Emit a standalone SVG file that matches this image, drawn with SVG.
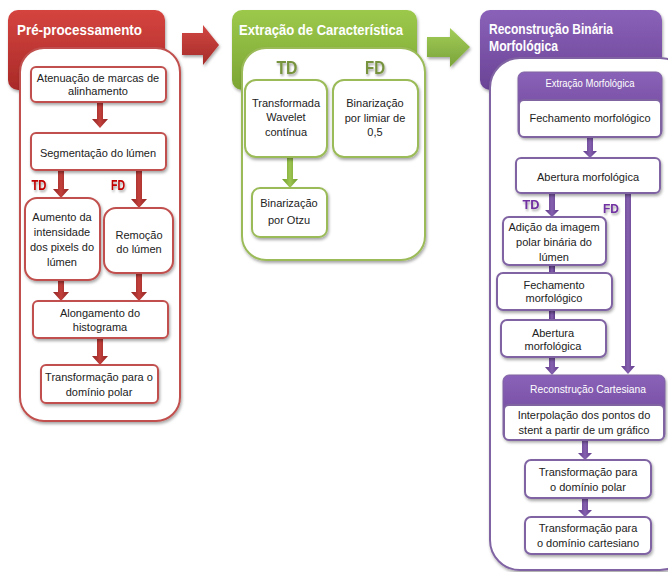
<svg xmlns="http://www.w3.org/2000/svg" width="668" height="572" viewBox="0 0 668 572">
<defs>
<linearGradient id="gRed" x1="0" y1="0" x2="0" y2="1"><stop offset="0" stop-color="#D5443F"/><stop offset="1" stop-color="#A92A28"/></linearGradient>
<linearGradient id="gGreen" x1="0" y1="0" x2="0" y2="1"><stop offset="0" stop-color="#9CC94B"/><stop offset="1" stop-color="#7CA534"/></linearGradient>
<linearGradient id="gPurple" x1="0" y1="0" x2="0" y2="1"><stop offset="0" stop-color="#8A62B8"/><stop offset="1" stop-color="#6A4396"/></linearGradient>
<linearGradient id="aRed" x1="0" y1="0" x2="1" y2="0"><stop offset="0" stop-color="#8E2321"/><stop offset="0.5" stop-color="#C2403C"/><stop offset="1" stop-color="#8E2321"/></linearGradient>
<linearGradient id="aGreen" x1="0" y1="0" x2="1" y2="0"><stop offset="0" stop-color="#6E9A2A"/><stop offset="0.5" stop-color="#9DC552"/><stop offset="1" stop-color="#6E9A2A"/></linearGradient>
<linearGradient id="aPurple" x1="0" y1="0" x2="1" y2="0"><stop offset="0" stop-color="#5E3A8A"/><stop offset="0.5" stop-color="#8460AE"/><stop offset="1" stop-color="#5E3A8A"/></linearGradient>
<linearGradient id="bigRed" x1="0" y1="0" x2="0" y2="1"><stop offset="0" stop-color="#D14642"/><stop offset="1" stop-color="#A52C29"/></linearGradient>
<linearGradient id="bigGreen" x1="0" y1="0" x2="0" y2="1"><stop offset="0" stop-color="#A3CD58"/><stop offset="1" stop-color="#7AA33A"/></linearGradient>
<filter id="sh" x="-10%" y="-10%" width="130%" height="140%"><feDropShadow dx="1" dy="2" stdDeviation="1.5" flood-color="#000" flood-opacity="0.35"/></filter>
<filter id="tsh" x="-20%" y="-20%" width="150%" height="160%"><feDropShadow dx="1" dy="2" stdDeviation="1" flood-color="#000" flood-opacity="0.35"/></filter>
</defs>
<style>
.hdr{font-family:"Liberation Sans",Arial,sans-serif;font-weight:bold;font-size:15px;fill:#fff}
.t{font-family:"Liberation Sans",Arial,sans-serif;font-size:11px;fill:#222;text-anchor:middle}
.gh{font-family:"Liberation Sans",Arial,sans-serif;font-size:11px;fill:#fff;text-anchor:middle}
.lab{font-family:"Liberation Sans",Arial,sans-serif;font-weight:bold;text-anchor:middle}
.rbox{fill:#fff;stroke:#C0504D;stroke-width:2}
.gbox{fill:#fff;stroke:#9BBB59;stroke-width:2}
.pbox{fill:#fff;stroke:#8064A2;stroke-width:2}
</style>

<!-- Panel 1: red -->
<g id="panel-pre">
<rect x="8" y="10" width="157" height="80" rx="10" fill="url(#gRed)" filter="url(#sh)"/>
<text class="hdr" x="17" y="35" textLength="125" lengthAdjust="spacingAndGlyphs">Pré-processamento</text>
<rect x="20" y="48" width="160" height="373" rx="24" fill="#fff" stroke="#C0504D" stroke-width="2" filter="url(#sh)"/>
</g>
<g id="panel-ext">
<rect x="232" y="10" width="185" height="80" rx="10" fill="url(#gGreen)" filter="url(#sh)"/>
<text class="hdr" x="239" y="35" textLength="164" lengthAdjust="spacingAndGlyphs">Extração de Característica</text>
<rect x="242" y="48" width="183" height="212" rx="24" fill="#fff" stroke="#9BBB59" stroke-width="2" filter="url(#sh)"/>
</g>
<g id="panel-rec">
<rect x="480" y="10" width="182" height="80" rx="10" fill="url(#gPurple)" filter="url(#sh)"/>
<text class="hdr" x="489" y="34" textLength="124" lengthAdjust="spacingAndGlyphs">Reconstrução Binária</text>
<text class="hdr" x="489" y="51" textLength="69" lengthAdjust="spacingAndGlyphs">Morfológica</text>
<rect x="490" y="58" width="200" height="512" rx="30" fill="#fff" stroke="#8064A2" stroke-width="2" filter="url(#sh)"/>
</g>

<!-- Connectors -->
<g id="connectors">
<polygon points="182,33 203,33 203,25 219,45 203,65 203,55 182,55" fill="url(#bigRed)" filter="url(#sh)"/>
<polygon points="427,37 450,37 450,28 470,47 450,67 450,57 427,57" fill="url(#bigGreen)" filter="url(#sh)"/>
<!-- red -->
<g fill="url(#aRed)">
<polygon points="97,102 103,102 103,119 108,119 100,128 92,119 97,119"/>
<polygon points="58,170 64,170 64,189 69,189 61,198 53,189 58,189"/>
<polygon points="136,170 142,170 142,199 147,199 139,208 131,199 136,199"/>
<polygon points="58,280 64,280 64,292 69,292 61,301 53,292 58,292"/>
<polygon points="136,273 142,273 142,292 147,292 139,301 131,292 136,292"/>
<polygon points="97,338 103,338 103,356 108,356 100,365 92,356 97,356"/>
</g>
<!-- green -->
<polygon points="287,157 293,157 293,179 298,179 290,188 282,179 287,179" fill="url(#aGreen)"/>
<!-- purple -->
<g fill="url(#aPurple)">
<polygon points="587,137 593,137 593,151 597,151 590,158 583,151 587,151"/>
<polygon points="549,193 555,193 555,210 559,210 552,217 545,210 549,210"/>
<polygon points="625,193 631,193 631,366 635,366 628,374 621,366 625,366"/>
<rect x="549" y="265" width="6" height="8"/>
<rect x="549" y="310" width="6" height="10"/>
<polygon points="549,357 555,357 555,367 559,367 552,375 545,367 549,367"/>
<polygon points="582,440 588,440 588,453 592,453 585,460 578,453 582,453"/>
<polygon points="582,498 588,498 588,510 592,510 585,517 578,510 582,510"/>
</g>
</g>

<!-- Labels TD/FD -->
<g id="labels">
<text class="lab" x="39" y="190" font-size="14" fill="#C00000" filter="url(#tsh)" textLength="15" lengthAdjust="spacingAndGlyphs">TD</text>
<text class="lab" x="118" y="190" font-size="14" fill="#C00000" filter="url(#tsh)" textLength="14" lengthAdjust="spacingAndGlyphs">FD</text>
<text class="lab" x="287" y="74" font-size="18" fill="#77933C" filter="url(#tsh)" textLength="21" lengthAdjust="spacingAndGlyphs">TD</text>
<text class="lab" x="375" y="74" font-size="18" fill="#77933C" filter="url(#tsh)" textLength="20" lengthAdjust="spacingAndGlyphs">FD</text>
<text class="lab" x="531" y="209" font-size="13" fill="#7030A0" filter="url(#tsh)" textLength="17" lengthAdjust="spacingAndGlyphs">TD</text>
<text class="lab" x="611" y="213" font-size="13" fill="#7030A0" filter="url(#tsh)" textLength="16" lengthAdjust="spacingAndGlyphs">FD</text>
</g>

<!-- Red nodes -->
<g id="n-atenuacao"><rect class="rbox" x="31" y="67" width="135" height="35" rx="5" filter="url(#sh)"/><text class="t" x="98" y="82">Atenuação de marcas de</text><text class="t" x="98" y="95">alinhamento</text></g>
<g id="n-segmentacao"><rect class="rbox" x="31" y="133" width="135" height="37" rx="5" filter="url(#sh)"/><text class="t" x="98" y="157">Segmentação do lúmen</text></g>
<g id="n-aumento"><rect class="rbox" x="25" y="198" width="75" height="82" rx="12" filter="url(#sh)"/><text class="t" x="62" y="221">Aumento da</text><text class="t" x="62" y="236">intensidade</text><text class="t" x="62" y="251">dos pixels do</text><text class="t" x="62" y="266">lúmen</text></g>
<g id="n-remocao"><rect class="rbox" x="104" y="208" width="69" height="65" rx="12" filter="url(#sh)"/><text class="t" x="139" y="239">Remoção</text><text class="t" x="139" y="253">do lúmen</text></g>
<g id="n-alongamento"><rect class="rbox" x="33" y="301" width="135" height="37" rx="5" filter="url(#sh)"/><text class="t" x="100" y="317">Alongamento do</text><text class="t" x="100" y="331">histograma</text></g>
<g id="n-polar1"><rect class="rbox" x="41" y="365" width="117" height="38" rx="5" filter="url(#sh)"/><text class="t" x="99" y="381">Transformação para o</text><text class="t" x="99" y="396">domínio polar</text></g>

<!-- Green nodes -->
<g id="n-wavelet"><rect class="gbox" x="245" y="80" width="82" height="77" rx="11" filter="url(#sh)"/><text class="t" x="286" y="107">Transformada</text><text class="t" x="286" y="121">Wavelet</text><text class="t" x="286" y="136">contínua</text></g>
<g id="n-limiar"><rect class="gbox" x="333" y="80" width="85" height="77" rx="11" filter="url(#sh)"/><text class="t" x="375" y="107">Binarização</text><text class="t" x="375" y="122">por limiar  de</text><text class="t" x="375" y="136">0,5</text></g>
<g id="n-otzu"><rect class="gbox" x="252" y="188" width="75" height="49" rx="8" filter="url(#sh)"/><text class="t" x="289" y="207">Binarização</text><text class="t" x="289" y="224">por Otzu</text></g>

<!-- Purple nodes -->
<g id="n-extmorf">
<rect x="518" y="72" width="144" height="65" rx="6" fill="url(#gPurple)" stroke="#8064A2" stroke-width="1" filter="url(#sh)"/>
<text class="gh" x="590" y="87" textLength="89" lengthAdjust="spacingAndGlyphs">Extração Morfológica</text>
<rect class="pbox" x="519" y="100" width="142" height="37" rx="5"/>
<text class="t" x="590" y="122">Fechamento morfológico</text>
</g>
<g id="n-abertura1"><rect class="pbox" x="516" y="158" width="144" height="35" rx="5" filter="url(#sh)"/><text class="t" x="588" y="181">Abertura morfológica</text></g>
<g id="n-adicao"><rect class="pbox" x="503" y="217" width="103" height="48" rx="6" filter="url(#sh)"/><text class="t" x="554" y="231">Adição da imagem</text><text class="t" x="554" y="246">polar binária do</text><text class="t" x="554" y="261">lúmen</text></g>
<g id="n-fechamento2"><rect class="pbox" x="497" y="273" width="115" height="37" rx="6" filter="url(#sh)"/><text class="t" x="554" y="289">Fechamento</text><text class="t" x="554" y="302">morfológico</text></g>
<g id="n-abertura2"><rect class="pbox" x="501" y="320" width="105" height="37" rx="6" filter="url(#sh)"/><text class="t" x="553" y="337">Abertura</text><text class="t" x="553" y="350">morfológica</text></g>
<g id="n-reccart">
<rect x="503" y="375" width="162" height="65" rx="6" fill="url(#gPurple)" stroke="#8064A2" stroke-width="1" filter="url(#sh)"/>
<text class="gh" x="588" y="393" textLength="116" lengthAdjust="spacingAndGlyphs">Reconstrução Cartesiana</text>
<rect class="pbox" x="504" y="405" width="160" height="35" rx="5"/>
<text class="t" x="584" y="419">Interpolação dos pontos do</text><text class="t" x="584" y="434">stent a partir de um gráfico</text>
</g>
<g id="n-polar2"><rect class="pbox" x="525" y="460" width="126" height="38" rx="6" filter="url(#sh)"/><text class="t" x="588" y="476">Transformação para</text><text class="t" x="588" y="491">o domínio polar</text></g>
<g id="n-cart"><rect class="pbox" x="525" y="517" width="126" height="37" rx="6" filter="url(#sh)"/><text class="t" x="588" y="532">Transformação para</text><text class="t" x="588" y="547">o domínio cartesiano</text></g>
</svg>
